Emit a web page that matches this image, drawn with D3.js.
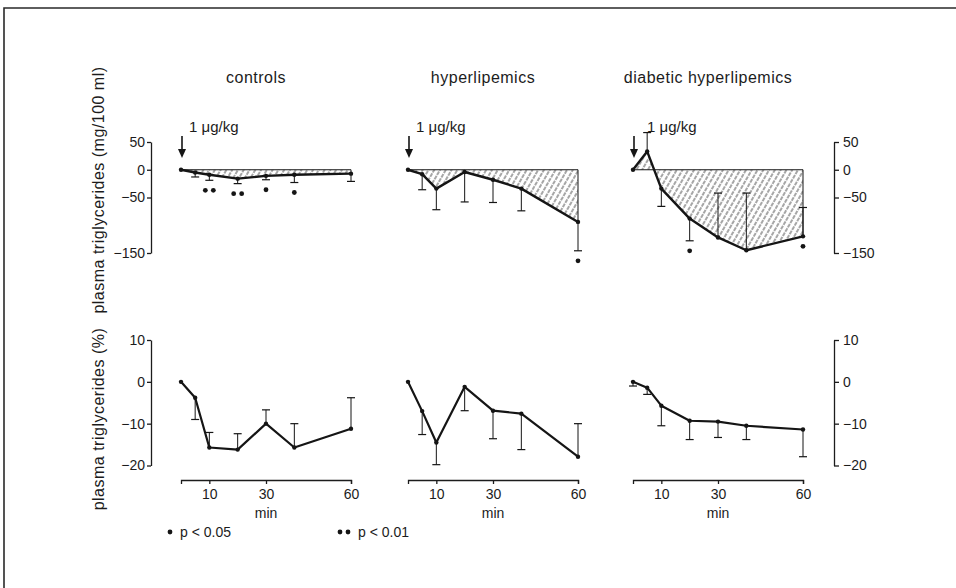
<!DOCTYPE html>
<html lang="en">
<head>
    <meta charset="UTF-8">
    <title>Plasma triglycerides after 1 µg/kg</title>
    <style>
        body {
            margin: 0;
            background: #fff;
            font-family: "Liberation Sans", Arial, sans-serif;
        }
        svg { display: block; }
        text { fill: #1c1c1c; }
        .title { font-size: 16px; letter-spacing: 0.5px; }
        .ylabel { font-size: 16px; letter-spacing: 0.5px; }
        .dose { font-size: 15px; }
        .axis text { font-size: 14px; font-family: "Liberation Sans", Arial, sans-serif; fill: #1c1c1c; }
        .xaxis text { font-size: 14px; }
        .axis path, .axis line { stroke: #1c1c1c; stroke-width: 1.3px; }
        .legend text { font-size: 14px; }
    </style>
    <script src="https://d3js.org/d3.v7.min.js"></script>
</head>
<body>
<svg id="chart" width="956" height="588"></svg>
<script>
    // sampling times (min after injection)
    const times = [0, 5, 10, 20, 30, 40, 60];
    const groups = ["controls", "hyperlipemics", "diabetic hyperlipemics"];
    const doseLabel = "1 \u03bcg/kg";
    const topTicks = [50, 0, -50, -150];
    const bottomTicks = [10, 0, -10, -20];
    const timeTicks = [10, 30, 60];

    // change in plasma triglycerides, mg/100 ml
    const ctrlAbs = [0, -5, -9, -16, -11, -9, -7];
    const hypAbs = [0, -8, -34, -4, -18, -34, -94];
    const diabAbs = [0, 33, -34, -88, -122, -145, -120];
    // end of the SEM bar (bar drawn from mean to this value)
    const ctrlAbsErr = [null, -13, -19, -25, -18, -23, -21];
    const hypAbsErr = [null, -36, -72, -58, -59, -74, -146];
    const diabAbsErr = [null, 67, -66, -128, -42, -42, -68];

    // change in plasma triglycerides, %
    const ctrlPct = [0, -3.8, -15.7, -16.2, -10, -15.7, -11.2];
    const hypPct = [0, -7, -14.5, -1.2, -6.9, -7.6, -17.9];
    const diabPct = [0, -1.4, -5.7, -9.3, -9.5, -10.5, -11.4];
    const ctrlPctErr = [null, -9, -12.1, -12.4, -6.7, -10, -3.8];
    const hypPctErr = [null, -12.6, -19.8, -6.9, -13.6, -16.2, -10];
    const diabPctErr = [-1, -3, -10.5, -13.8, -13.3, -13.8, -17.9];

    // significance: 1 = p < 0.05, 2 = p < 0.01
    const ctrlSig = [0, 0, 2, 2, 1, 1, 0];
    const hypSig = [0, 0, 0, 0, 0, 0, 1];
    const diabSig = [0, 0, 0, 1, 0, 0, 1];

    const legendLabels = ["p < 0.05", "p < 0.01"];

    const svg = d3.select("#chart");
    const ink = "#151515";

    // scanned frame
    svg.append("path")
        .attr("d", "M4,588 V8 H956")
        .attr("fill", "none")
        .attr("stroke", "#2a2a2a")
        .attr("stroke-width", 1.6);

    const defs = svg.append("defs");
    defs.append("pattern")
        .attr("id", "hatch")
        .attr("patternUnits", "userSpaceOnUse")
        .attr("width", 5)
        .attr("height", 5)
        .attr("patternTransform", "rotate(30)")
        .append("line")
        .attr("x1", 1).attr("y1", 0)
        .attr("x2", 1).attr("y2", 5)
        .attr("stroke", "#3a3a3a")
        .attr("stroke-width", 0.9)
        .attr("stroke-dasharray", "3,1");

    const panelX = [181, 408, 633];
    const panelW = 170;
    const doseDx = [8, 8, 14];

    const yTop = d3.scaleLinear().domain([-150, 50]).range([253, 142]);
    const yBot = d3.scaleLinear().domain([-20, 10]).range([465.5, 340]);

    const absData = [ctrlAbs, hypAbs, diabAbs];
    const absErr = [ctrlAbsErr, hypAbsErr, diabAbsErr];
    const pctData = [ctrlPct, hypPct, diabPct];
    const pctErr = [ctrlPctErr, hypPctErr, diabPctErr];
    const sigData = [ctrlSig, hypSig, diabSig];

    function errorBars(g, x, y, values, errs, capW) {
        const rows = times.map((t, i) => ({ t, v: values[i], e: errs[i] }))
            .filter(d => d.e !== null);
        g.selectAll(".err")
            .data(rows)
            .enter().append("line")
            .attr("x1", d => x(d.t)).attr("x2", d => x(d.t))
            .attr("y1", d => y(d.v)).attr("y2", d => y(d.e))
            .attr("stroke", ink).attr("stroke-width", 1);
        g.selectAll(".cap")
            .data(rows)
            .enter().append("line")
            .attr("x1", d => x(d.t) - capW / 2).attr("x2", d => x(d.t) + capW / 2)
            .attr("y1", d => y(d.e)).attr("y2", d => y(d.e))
            .attr("stroke", ink).attr("stroke-width", 1.2);
    }

    function meanLine(g, x, y, values, width) {
        const rows = times.map((t, i) => ({ t, v: values[i] }));
        g.append("path")
            .datum(rows)
            .attr("fill", "none")
            .attr("stroke", ink)
            .attr("stroke-width", width)
            .attr("stroke-linejoin", "round")
            .attr("d", d3.line().x(d => x(d.t)).y(d => y(d.v)));
        g.selectAll(".pt")
            .data(rows)
            .enter().append("circle")
            .attr("cx", d => x(d.t))
            .attr("cy", d => y(d.v))
            .attr("r", 2.2)
            .attr("fill", ink);
    }

    groups.forEach((name, k) => {
        const x = d3.scaleLinear().domain([0, 60]).range([panelX[k], panelX[k] + panelW]);
        const g = svg.append("g");

        svg.append("text")
            .attr("class", "title")
            .attr("x", x(30) - 10)
            .attr("y", 83)
            .attr("text-anchor", "middle")
            .text(name);

        // injection arrow
        g.append("line")
            .attr("x1", x(0) + 1).attr("x2", x(0) + 1)
            .attr("y1", 136).attr("y2", 150)
            .attr("stroke", ink).attr("stroke-width", 1.6);
        g.append("path")
            .attr("d", `M${x(0) - 3},149 L${x(0) + 5},149 L${x(0) + 1},158 Z`)
            .attr("fill", ink);
        g.append("text")
            .attr("class", "dose")
            .attr("x", x(0) + doseDx[k])
            .attr("y", 132)
            .text(doseLabel);

        // ---- upper panel: absolute change, hatched against zero
        const abs = times.map((t, i) => ({ t, v: absData[k][i] }));
        g.append("path")
            .datum(abs)
            .attr("fill", "url(#hatch)")
            .attr("d", d3.area().x(d => x(d.t)).y0(yTop(0)).y1(d => yTop(d.v)));
        g.append("line")
            .attr("x1", x(0)).attr("x2", x(60))
            .attr("y1", yTop(0)).attr("y2", yTop(0))
            .attr("stroke", ink).attr("stroke-width", 1);
        g.append("line")
            .attr("x1", x(60)).attr("x2", x(60))
            .attr("y1", yTop(0)).attr("y2", yTop(absData[k][6]))
            .attr("stroke", ink).attr("stroke-width", 1);
        errorBars(g, x, yTop, absData[k], absErr[k], 8);
        meanLine(g, x, yTop, absData[k], 2.4);

        // significance markers under each time point
        times.forEach((t, i) => {
            const n = sigData[k][i];
            if (!n) return;
            const low = Math.min(absData[k][i], absErr[k][i] === null ? 0 : absErr[k][i]);
            const cy = yTop(low) + 10;
            d3.range(n).forEach(j => {
                g.append("circle")
                    .attr("cx", x(t) + (j - (n - 1) / 2) * 8)
                    .attr("cy", cy)
                    .attr("r", 2.4)
                    .attr("fill", ink);
            });
        });

        // ---- lower panel: percent change
        errorBars(g, x, yBot, pctData[k], pctErr[k], 8);
        meanLine(g, x, yBot, pctData[k], 2.2);

        g.append("g")
            .attr("class", "axis xaxis")
            .attr("transform", "translate(0,480)")
            .call(d3.axisBottom(x).tickValues(timeTicks).tickSize(4).tickSizeOuter(4).tickPadding(5));

        svg.append("text")
            .attr("x", x(30))
            .attr("y", 518)
            .attr("text-anchor", "middle")
            .style("font-size", "14px")
            .text("min");
    });

    // value axes, left and right
    const tickFmt = d3.format("d");
    svg.append("g")
        .attr("class", "axis")
        .attr("transform", "translate(151,0)")
        .call(d3.axisLeft(yTop).tickValues(topTicks).tickFormat(tickFmt).tickSize(4).tickSizeOuter(0).tickPadding(2));
    svg.append("g")
        .attr("class", "axis")
        .attr("transform", "translate(151,0)")
        .call(d3.axisLeft(yBot).tickValues(bottomTicks).tickFormat(tickFmt).tickSize(4).tickSizeOuter(0).tickPadding(2));
    svg.append("g")
        .attr("class", "axis")
        .attr("transform", "translate(834,0)")
        .call(d3.axisRight(yTop).tickValues(topTicks).tickFormat(tickFmt).tickSize(5).tickSizeOuter(0).tickPadding(4));
    svg.append("g")
        .attr("class", "axis")
        .attr("transform", "translate(834,0)")
        .call(d3.axisRight(yBot).tickValues(bottomTicks).tickFormat(tickFmt).tickSize(5).tickSizeOuter(0).tickPadding(4));

    svg.append("text")
        .attr("class", "ylabel")
        .attr("transform", "translate(104,190) rotate(-90)")
        .attr("text-anchor", "middle")
        .text("plasma triglycerides (mg/100 ml)");
    svg.append("text")
        .attr("class", "ylabel")
        .attr("transform", "translate(104,419) rotate(-90)")
        .attr("text-anchor", "middle")
        .text("plasma triglycerides (%)");

    // legend
    const legend = svg.append("g").attr("class", "legend");
    const legendX = [170, 340];
    legendLabels.forEach((lab, i) => {
        d3.range(i + 1).forEach(j => {
            legend.append("circle")
                .attr("cx", legendX[i] + j * 8)
                .attr("cy", 532)
                .attr("r", 2.4)
                .attr("fill", ink);
        });
        legend.append("text")
            .attr("x", legendX[i] + i * 8 + 10)
            .attr("y", 537)
            .text(lab);
    });
</script>
</body>
</html>
